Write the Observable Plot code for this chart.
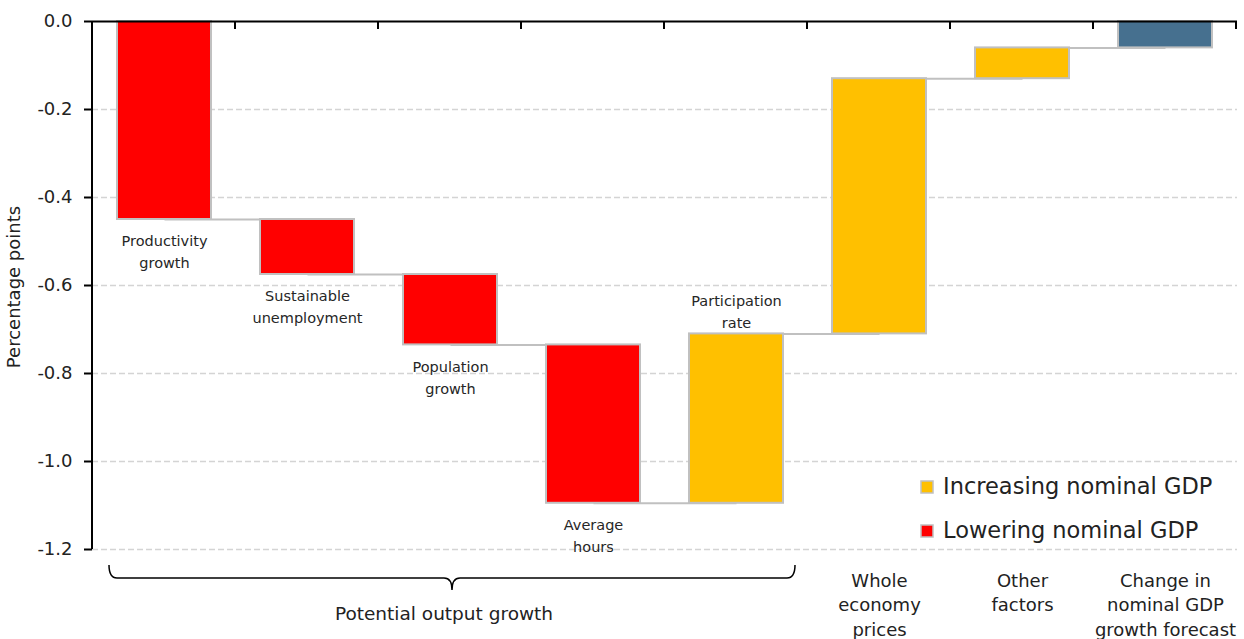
<!DOCTYPE html>
<html><head><meta charset="utf-8">
<script src="https://cdn.jsdelivr.net/npm/d3@7"></script>
<script src="https://cdn.jsdelivr.net/npm/@observablehq/plot@0.6"></script>
<style>
body{margin:0;background:#fff;}
#chart{position:relative;width:1244px;height:639px;}
svg{font-family:"DejaVu Sans",sans-serif;}
</style></head><body><div id="chart"></div>
<script>
const categories = ["Productivity growth", "Sustainable unemployment", "Population growth", "Average hours", "Participation rate", "Whole economy prices", "Other factors", "Change in nominal GDP growth forecast"];
const changes = [-0.45, -0.125, -0.16, -0.36, 0.385, 0.58, 0.07];
const totalChange = -0.06;
const kinds = ["Lowering", "Lowering", "Lowering", "Lowering", "Increasing", "Increasing", "Increasing", "Total"];
const insideLabels = ["Productivity\ngrowth", "Sustainable\nunemployment", "Population\ngrowth", "Average\nhours", "Participation\nrate", "", "", ""];
const bottomLabels = ["", "", "", "", "", "Whole\neconomy\nprices", "Other\nfactors", "Change in\nnominal GDP\ngrowth forecast"];
const yTicks = [0, -0.2, -0.4, -0.6, -0.8, -1.0, -1.2];
const legendLabels = ["Increasing nominal GDP", "Lowering nominal GDP"];
const legendKinds = ["Increasing", "Lowering"];
const colorDomain = ["Lowering", "Increasing", "Total"];
const colorRange = ["#ff0000", "#ffc000", "#46708f"];
const groupLabel = "Potential output growth";
const groupSize = 5;
const yLabel = "Percentage points";

(function () {
let level = 0;
const rows = categories.map((c, i) => {
  let start, end;
  if (i < changes.length) { start = level; level = +(level + changes[i]).toFixed(4); end = level; }
  else { start = 0; end = totalChange; }
  return {c, start, end, kind: kinds[i], inside: insideLabels[i], bottom: bottomLabels[i]};
});
const connectors = rows.slice(0, -1).map((r, i) => ({a: r.c, b: rows[i + 1].c, y: r.end}));

const W = 1244, H = 639;
const plot = Plot.plot({
  width: W, height: H,
  marginLeft: 92, marginRight: 7, marginTop: 21, marginBottom: 90,
  style: {fontFamily: '"DejaVu Sans", sans-serif', background: "white", overflow: "visible"},
  x: {domain: categories, paddingInner: 0.34, paddingOuter: 0.17, axis: null},
  y: {domain: [-1.2, 0], axis: null},
  color: {domain: colorDomain, range: colorRange},
  marks: [
    Plot.gridY(yTicks.filter(d => d !== 0), {stroke: "#d4d4d4", strokeOpacity: 1, strokeWidth: 1.5, strokeDasharray: "6,3"}),
    Plot.axisY(yTicks, {tickSize: 8, tickPadding: 12, tickFormat: d => d.toFixed(1), fontSize: 18, fill: "#222", stroke: "#000", strokeWidth: 2, label: null}),
    Plot.link(connectors, {x1: "a", x2: "b", y1: "y", y2: "y", stroke: "#c0c0c0", strokeWidth: 2}),
    Plot.barY(rows, {x: "c", y1: "start", y2: "end", fill: "kind", stroke: "#c0c0c0", strokeWidth: 2}),
    Plot.ruleY([0], {stroke: "#000", strokeWidth: 2}),
    Plot.text(rows.filter(d => d.inside && d.kind === "Lowering"), {x: "c", y: "end", text: "inside", lineAnchor: "top", dy: 11, fontSize: 14.5, lineHeight: 1.52, fill: "#262626"}),
    Plot.text(rows.filter(d => d.inside && d.kind === "Increasing"), {x: "c", y: "end", text: "inside", lineAnchor: "bottom", dy: -6, fontSize: 14.5, lineHeight: 1.52, fill: "#262626"}),
    Plot.text(rows.filter(d => d.bottom), {x: "c", frameAnchor: "bottom", text: "bottom", lineAnchor: "top", dy: 20, fontSize: 18, lineHeight: 1.36, fill: "#222"})
  ]
});
document.getElementById("chart").appendChild(plot);

// decorations driven by the plot's scales
const svg = d3.select(plot);
const xs = plot.scale("x"), ys = plot.scale("y");
const xr = xs.range, step = xs.step, bw = xs.bandwidth;
const xpos = c => xs.apply(c);
const y0 = ys.apply(0), yb = ys.apply(-1.2);
svg.append("line").attr("x1", xr[0]).attr("x2", xr[0]).attr("y1", y0).attr("y2", yb).attr("stroke", "#000").attr("stroke-width", 2);
for (let k = 1; k <= categories.length; k++) {
  const x = xr[0] + k * step;
  svg.append("line").attr("x1", x).attr("x2", x).attr("y1", y0).attr("y2", y0 + 8).attr("stroke", "#000").attr("stroke-width", 2);
}
const xL = xpos(categories[0]) - 8, xR = xpos(categories[groupSize - 1]) + bw + 12, mid = (xL + xR) / 2;
const bTop = yb + 16, hy = yb + 29, tip = yb + 41;
svg.append("path").attr("fill", "none").attr("stroke", "#000").attr("stroke-width", 1.5)
  .attr("d", `M${xL},${bTop} Q${xL},${hy} ${xL + 8},${hy} L${mid - 8},${hy} Q${mid},${hy} ${mid},${tip} Q${mid},${hy} ${mid + 8},${hy} L${xR - 8},${hy} Q${xR},${hy} ${xR},${bTop}`);
svg.append("text").attr("x", mid - 8).attr("y", yb + 71).attr("text-anchor", "middle").attr("font-size", 18.5).attr("fill", "#222").text(groupLabel);
svg.append("text").attr("transform", `translate(15,${(y0 + yb) / 2 + 2}) rotate(-90)`).attr("text-anchor", "middle").attr("dominant-baseline", "middle").attr("font-size", 18).attr("fill", "#222").text(yLabel);
const colorOf = k => colorRange[colorDomain.indexOf(k)];
legendLabels.forEach((lab, i) => {
  const cy = 487 + i * 44;
  svg.append("rect").attr("x", 921).attr("y", cy - 6).attr("width", 12).attr("height", 12).attr("fill", colorOf(legendKinds[i])).attr("stroke", "#c0c0c0").attr("stroke-width", 1.5);
  svg.append("text").attr("x", 943).attr("y", cy).attr("text-anchor", "start").attr("dominant-baseline", "middle").attr("font-size", 22.5).attr("fill", "#222").text(lab);
});
})();
</script></body></html>
